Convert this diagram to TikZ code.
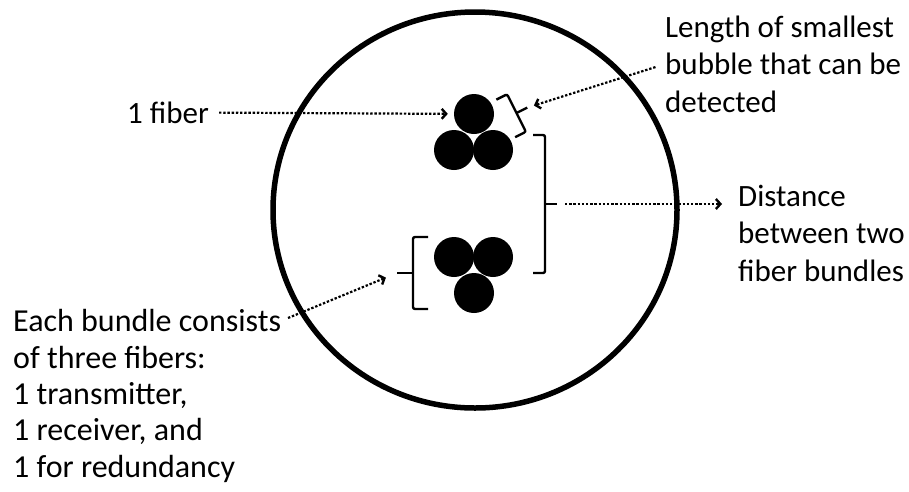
\documentclass[tikz,border=0pt]{standalone}
\usepackage{fontspec}
\setmainfont{Carlito}
\usetikzlibrary{arrows.meta}
\tikzset{
  fiber/.style={circle,fill=black,minimum size=40pt,inner sep=0pt},
  pointer/.style={line width=2.2pt,dash pattern=on 2.4pt off 1.8pt,
    -{Straight Barb[length=4.5pt,width=10pt,line width=2.4pt]}},
  bracket/.style={line width=2.4pt,rounded corners=2pt},
  remark/.style={anchor=base west,inner sep=0pt,align=left,
    font=\fontsize{31}{37.3}\selectfont}
}
\begin{document}
\begin{tikzpicture}[x=1pt,y=-1pt]
\useasboundingbox (0,0) rectangle (909,491);
% cable cross section
\draw[line width=5.5pt] (475,210) ellipse [x radius=202,y radius=198];
% upper bundle
\node[fiber] (t1) at (474,114) {};
\node[fiber] (t2) at (454,150) {};
\node[fiber] (t3) at (493,150) {};
% lower bundle
\node[fiber] (b1) at (454,257) {};
\node[fiber] (b2) at (493,257) {};
\node[fiber] (b3) at (474,293) {};
% brace on the top fiber
\begin{scope}[shift={(516.5,113)},rotate=26.6]
\draw[bracket] (-12,-21) -- (0,-21) -- (0,21) -- (-12,21);
\draw[bracket] (0,0) -- (12,0) coordinate (smalltip);
\end{scope}
% bracket between the bundles
\draw[bracket] (533,135) -- (545,135) -- (545,273) -- (533,273);
\draw[bracket] (545,204) -- (557,204) coordinate (bigtip);
% bracket round the lower bundle
\draw[bracket] (428,237) -- (413,237) -- (413,309) -- (428,309);
\draw[bracket] (413,273) -- (397,273) coordinate (lefttip);
% labels (multi-line ones sit on their last line)
\node[remark] (lblfiber) at (127,123) {1 fiber};
\node[remark] (lbllen) at (665,112) {Length of smallest\\bubble that can be\\detected};
\node[remark] (lbldist) at (738,281) {Distance\\between two\\fiber bundles};
\node[remark,font=\fontsize{32}{36.3}\selectfont] (lblbundle) at (13,477)
  {Each bundle consists\\of three fibers:\\1 transmitter,\\1 receiver, and\\1 for redundancy};
\coordinate (eachend) at (288,318);
% pointers
\draw[pointer,shorten <=10pt,shorten >=6pt] (lblfiber) -- (t1);
\draw[pointer,shorten <=10pt,shorten >=7pt] (lbllen.west) -- (smalltip);
\draw[pointer,shorten <=8pt,shorten >=16pt] (bigtip) -- (bigtip -| lbldist.west);
\draw[pointer,shorten >=12pt] (eachend) -- (lefttip);
\end{tikzpicture}
\end{document}
